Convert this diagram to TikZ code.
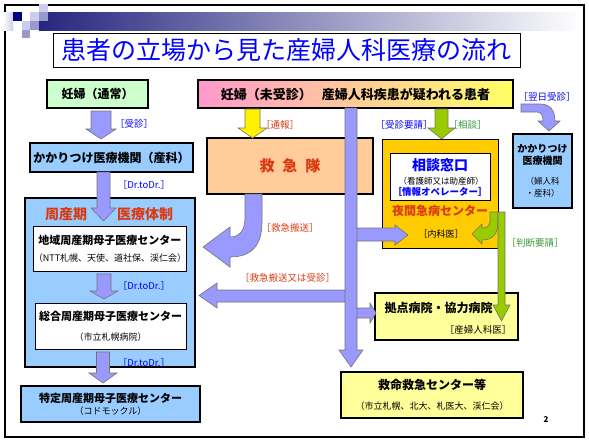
\documentclass[tikz,border=0pt]{standalone}
\usepackage{fontspec}
\setmainfont{Noto Sans CJK JP}
\usetikzlibrary{positioning}
\definecolor{hdr}{HTML}{262680}
\definecolor{sqd}{HTML}{000080}
\definecolor{sqm}{HTML}{9999CC}
\definecolor{sql}{HTML}{CCCCEE}
\definecolor{ttl}{HTML}{0000FF}
\definecolor{grn}{HTML}{CCFFCC}
\definecolor{pnk}{HTML}{FF99CC}
\definecolor{ylw}{HTML}{FFFF66}
\definecolor{lblu}{HTML}{99CCFF}
\definecolor{pch}{HTML}{FFCC99}
\definecolor{org}{HTML}{FFCC00}
\definecolor{lyl}{HTML}{FFFF99}
\definecolor{lav}{HTML}{9999FF}
\definecolor{lime}{HTML}{99CC00}
\definecolor{redtx}{HTML}{D93A12}
\definecolor{grtx}{HTML}{339933}

\begin{document}
\begin{tikzpicture}[x=1pt,y=-1pt,
  box/.style={draw,line width=2pt,inner sep=0pt},
  thinbox/.style={draw,line width=0.8pt,inner sep=0pt,fill=white},
  lbl/.style={font=\fontsize{9.5}{11}\selectfont,inner sep=0pt},
  blk/.style={fill=lav,draw=black!55,line width=0.6pt},
  gblk/.style={fill=lime,draw=black!55,line width=0.6pt}]
\useasboundingbox (0,0) rectangle (589,445);
% frame and header band
\draw[line width=2.4pt] (5,5) rectangle (584,437);
\shade[left color=hdr,middle color=hdr!45!white,right color=white] (39,12) rectangle (582,30);
\shade[left color=white,right color=sql] (3,12) rectangle (13,30);
\fill[sqd] (13,12) rectangle (22,21);
\fill[sql] (30,12) rectangle (39,21);
\fill[sqm] (39,12) rectangle (48,21);
\fill[sql] (39,4) rectangle (48,12);
\fill[sql] (22,21) rectangle (30,30);
\fill[sqm] (30,21) rectangle (39,30);
\fill[sqm] (22,30) rectangle (30,38);
\node[draw,line width=0.8pt,fill=white,minimum width=467pt,minimum height=34pt,inner sep=0pt,text=ttl,font=\fontsize{25}{27}\selectfont] (title) at (286.5,50) {患者の立場から見た産婦人科医療の流れ};

% top row
\node[box,fill=grn,minimum width=101pt,minimum height=28pt,font=\fontsize{12}{14}\selectfont\bfseries] (normal) at (97.5,94) {妊婦（通常）};
\node[box,left color=pnk,right color=ylw,minimum width=315pt,minimum height=28pt,font=\fontsize{13}{15}\selectfont\bfseries] (suspect) at (355.5,94) {妊婦（未受診）\hspace{10pt}産婦人科疾患が疑われる患者};

% left column
\node[box,fill=lblu,minimum width=163pt,minimum height=29pt,font=\fontsize{12}{14}\selectfont\bfseries] (clinic) at (111.5,157.5) {かかりつけ医療機関（産科）};
\node[draw,line width=1.2pt,fill=lblu,minimum width=170pt,minimum height=169pt] (perinatal) at (110,282.5) {};
\node[font=\fontsize{14}{16}\selectfont\bfseries,text=redtx] (perinatalA) at (66,214) {周産期};
\node[font=\fontsize{14}{16}\selectfont\bfseries,text=redtx] (perinatalB) at (145,214) {医療体制};
\node[thinbox,minimum width=150pt,minimum height=45pt,align=center,font=\fontsize{11}{13}\selectfont\bfseries] (regional) at (110,248.5) {地域周産期母子医療センター\\[4pt]{\fontsize{9}{10}\selectfont\mdseries （NTT札幌、天使、道社保、渓仁会）}};
\node[thinbox,minimum width=151pt,minimum height=46pt,align=center,font=\fontsize{11}{13}\selectfont\bfseries] (general) at (110.5,326) {総合周産期母子医療センター\\[7pt]{\fontsize{9}{10}\selectfont\mdseries （市立札幌病院）}};
\node[box,fill=lblu,minimum width=179pt,minimum height=36pt,align=center,font=\fontsize{11}{12}\selectfont\bfseries] (specific) at (110.5,404) {特定周産期母子医療センター\\{\fontsize{9}{10}\selectfont\mdseries （コドモックル）}};

% middle and right
\node[box,fill=pch,minimum width=166pt,minimum height=56pt,font=\fontsize{15}{17}\selectfont\bfseries,text=redtx] (ems) at (290,166) {救\hspace{8pt}急\hspace{8pt}隊};
\node[draw,line width=0.8pt,fill=org,minimum width=116pt,minimum height=109pt] (night) at (440,193.5) {};
\node[thinbox,minimum width=100pt,minimum height=47pt] (consult) at (440,176.5) {};
\node[font=\fontsize{14}{16}\selectfont\bfseries,text=ttl] (consultA) at (440,165) {相談窓口};
\node[font=\fontsize{8.5}{10}\selectfont] (consultB) at (441,181) {（看護師又は助産師）};
\node[font=\fontsize{9.5}{11}\selectfont\bfseries,text=ttl] (consultC) at (440,192) {［情報オペレーター］};
\node[font=\fontsize{12}{14}\selectfont\bfseries,text=redtx] (nightA) at (440,211) {夜間急病センター};
\node[font=\fontsize{9}{10}\selectfont] (nightB) at (441,234) {［内科医］};
\node[box,fill=lblu,minimum width=59pt,minimum height=74pt,align=center,font=\fontsize{10}{11.5}\selectfont\bfseries] (family) at (542.5,171) {かかりつけ\\医療機関\\[9pt]{\fontsize{8.5}{10}\selectfont\mdseries （婦人科}\\{\fontsize{8.5}{10}\selectfont\mdseries ・産科）}};
\node[box,fill=lyl,minimum width=143pt,minimum height=47pt] (base) at (446.5,316.5) {};
\node[anchor=west,font=\fontsize{12}{14}\selectfont\bfseries] (baseA) at (381,308) {拠点病院・協力病院};
\node[anchor=east,font=\fontsize{9.5}{11}\selectfont] (baseB) at (515,330) {［産婦人科医］};
\node[box,fill=lyl,minimum width=182pt,minimum height=46pt,align=center,font=\fontsize{12}{14}\selectfont\bfseries] (ercenter) at (432,395) {救命救急センター等\\[6pt]{\fontsize{9}{10}\selectfont\mdseries （市立札幌、北大、札医大、渓仁会）}};
\node[font=\fontsize{8}{9}\selectfont\bfseries] (pageno) at (546,420) {2};

% block arrows, left column
\draw[blk] (91,111)--(111,111)--(111,129)--(116,129)--(101,139)--(86,129)--(91,129)--cycle;
\draw[blk] (97,172)--(110,172)--(110,208)--(116,208)--(103.5,221)--(91,208)--(97,208)--cycle;
\draw[blk] (97,274)--(111,274)--(111,291)--(118,291)--(104,299)--(90,291)--(97,291)--cycle;
\draw[blk] (96.5,352)--(109.5,352)--(109.5,373)--(117,373)--(103,383)--(89,373)--(96.5,373)--cycle;
% block arrows from the top box
\draw[fill=yellow,draw=black!55,line width=0.6pt] (245,109)--(260,109)--(260,128)--(267,128)--(252.5,138)--(238,128)--(245,128)--cycle;
\draw[gblk] (435,109)--(448,109)--(448,128)--(455,128)--(441.5,139)--(428,128)--(435,128)--cycle;
\draw[blk] (521,104)--(540,104) .. controls (550,104) and (555,110) .. (555,121)--(560,121)--(549,131)--(538,121)--(543,121) .. controls (543,115) and (541,112) .. (537,112)--(521,112)--cycle;
% ambulance transport
\draw[blk] (245,194)--(245,218) .. controls (245,232) and (238,237) .. (230,237)--(230,227)--(203,247)--(230,267)--(230,257) .. controls (252,257) and (262,245) .. (262,222)--(262,194)--cycle;
% branches of the main bar
\draw[blk] (351,228)--(395,228)--(395,225)--(408,235)--(395,245)--(395,241)--(351,241)--cycle;
\draw[blk] (350,290)--(217,290)--(217,283)--(199,295.5)--(217,308)--(217,302)--(350,302)--cycle;
\draw[blk] (351,308)--(370,308)--(370,303)--(376,313)--(370,323)--(370,318)--(351,318)--cycle;
\draw[blk] (345,108)--(357,108)--(357,350)--(363,350)--(351,367)--(339,350)--(345,350)--cycle;
% night clinic referral
\draw[gblk] (490,212)--(490,221) .. controls (490,226) and (487,228) .. (482,228)--(482,224)--(472,234)--(482,244)--(482,240) .. controls (494,240) and (498,233) .. (498,221)--(498,212)--cycle;
\draw[gblk] (498,212)--(505,212)--(505,305)--(510,305)--(501.5,321)--(493,305)--(498,305)--cycle;

% labels
\node[lbl,text=ttl] (l1) at (134,124) {［受診］};
\node[lbl,text=ttl] (l2) at (144,185) {［Dr.toDr.］};
\node[lbl,text=ttl] (l3) at (144,286) {［Dr.toDr.］};
\node[lbl,text=ttl] (l4) at (144,363) {［Dr.toDr.］};
\node[lbl,text=redtx] (l5) at (280,125) {［通報］};
\node[lbl,text=redtx] (l6) at (290,228) {［救急搬送］};
\node[lbl,text=redtx] (l7) at (287.5,278) {［救急搬送又は受診］};
\node[lbl,text=ttl] (l8) at (404,125) {［受診要請］};
\node[lbl,text=grtx] (l9) at (467.5,125) {［相談］};
\node[lbl,text=grtx] (l10) at (535,243) {［判断要請］};
\node[lbl,text=ttl] (l11) at (547,97) {［翌日受診］};
\end{tikzpicture}
\end{document}
